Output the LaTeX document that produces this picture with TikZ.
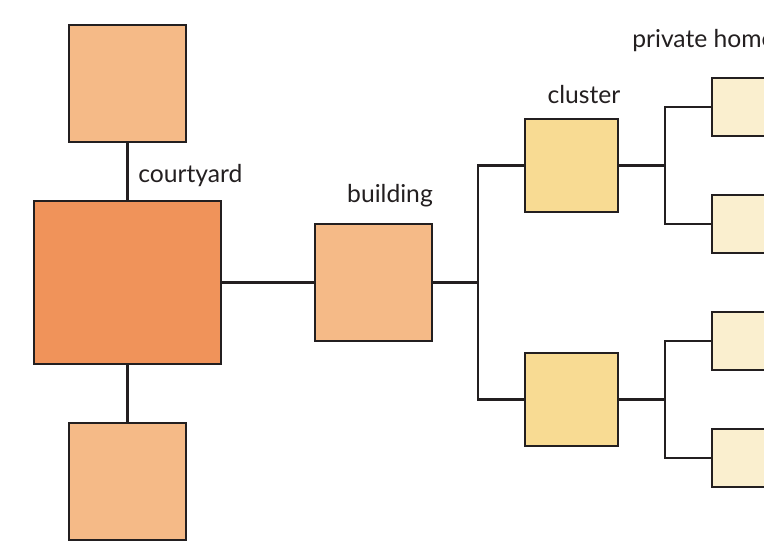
\documentclass[tikz,border=0pt]{standalone}
\usepackage{fontspec}
\setmainfont{Lato}
\begin{document}
\begin{tikzpicture}[x=0.75pt,y=-0.75pt,
  box/.style={draw=lineclr,line width=2.2pt,rectangle,anchor=north west,inner sep=0pt,outer sep=0pt},
  conn/.style={draw=lineclr,line width=1.9pt,line cap=rect},
  lbl/.style={font=\fontsize{18.5}{22}\selectfont,text=textclr,inner sep=0pt}]
\definecolor{lineclr}{HTML}{231F20}
\definecolor{textclr}{HTML}{231F20}
\definecolor{darkor}{HTML}{F0935A}
\definecolor{lightor}{HTML}{F5BA87}
\definecolor{clus}{HTML}{F8DB93}
\definecolor{priv}{HTML}{FAEFCF}
\useasboundingbox (0,0) rectangle (764,549);
\clip (0,0) rectangle (764,549);
% connectors first (under boxes)
\coordinate (j1) at (478,282.5);
\coordinate (j2) at (665,165.5);
\coordinate (j3) at (665,399.5);
% boxes
\node[box,fill=lightor,minimum width=117*0.75pt,minimum height=117*0.75pt] (top) at (69,25) {};
\node[box,fill=darkor,minimum width=187*0.75pt,minimum height=163*0.75pt] (court) at (34,201) {};
\node[box,fill=lightor,minimum width=117*0.75pt,minimum height=117*0.75pt] (bot) at (69,423) {};
\node[box,fill=lightor,minimum width=117*0.75pt,minimum height=117*0.75pt] (bld) at (315,224) {};
\node[box,fill=clus,minimum width=93*0.75pt,minimum height=93*0.75pt] (c1) at (525,119) {};
\node[box,fill=clus,minimum width=93*0.75pt,minimum height=93*0.75pt] (c2) at (525,353) {};
\node[box,fill=priv,minimum width=80*0.75pt,minimum height=58*0.75pt] (p1) at (712,78) {};
\node[box,fill=priv,minimum width=80*0.75pt,minimum height=58*0.75pt] (p2) at (712,195) {};
\node[box,fill=priv,minimum width=80*0.75pt,minimum height=58*0.75pt] (p3) at (712,312) {};
\node[box,fill=priv,minimum width=80*0.75pt,minimum height=58*0.75pt] (p4) at (712,429) {};
% connectors
\draw[conn] (top.south) -- (court.north);
\draw[conn] (court.south) -- (bot.north);
\draw[conn] (court.east) -- (bld.west);
\draw[conn] (bld.east) -- (j1);
\draw[conn] (c1.west) -| (j1) |- (c2.west);
\draw[conn] (c1.east) -- (j2);
\draw[conn] (p1.west) -| (j2) |- (p2.west);
\draw[conn] (c2.east) -- (j3);
\draw[conn] (p3.west) -| (j3) |- (p4.west);
% labels
\node[lbl,anchor=west] (lc) at (138,176) {courtyard};
\node[lbl] (lb) at (390,196) {building};
\node[lbl] (lcl) at (584,95) {cluster};
\node[lbl,anchor=west] (lp) at (632,41) {private home};
\end{tikzpicture}
\end{document}
